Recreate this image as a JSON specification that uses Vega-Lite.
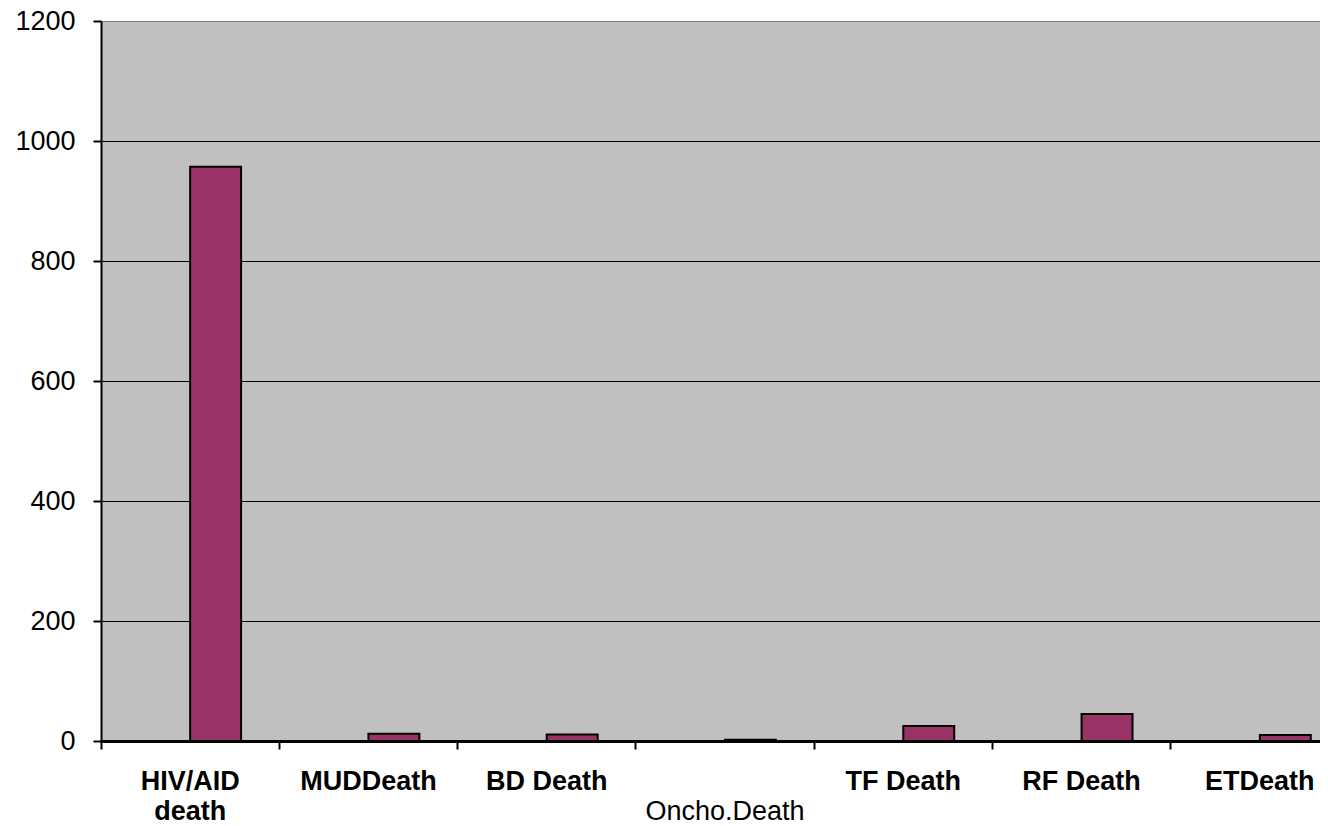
{
  "$schema": "https://vega.github.io/schema/vega-lite/v6.json",
  "autosize": {"type": "none"},
  "width": 1219,
  "height": 720,
  "padding": {"left": 101, "top": 21, "right": 0, "bottom": 85},
  "background": "white",
  "config": {
    "view": {"fill": "#C0C0C0", "stroke": null},
    "font": "Liberation Sans"
  },
  "data": {
    "values": [
      {"cause": "HIV/AID death", "series": "deaths", "count": 957},
      {"cause": "MUDDeath", "series": "deaths", "count": 12},
      {"cause": "BD Death", "series": "deaths", "count": 11},
      {"cause": "Oncho.Death", "series": "deaths", "count": 2},
      {"cause": "TF Death", "series": "deaths", "count": 25},
      {"cause": "RF Death", "series": "deaths", "count": 45},
      {"cause": "ETDeath", "series": "deaths", "count": 10}
    ]
  },
  "mark": {"type": "bar", "fill": "#993366", "stroke": "black", "strokeWidth": 2},
  "encoding": {
    "x": {
      "field": "cause",
      "type": "nominal",
      "sort": null,
      "title": null,
      "scale": {"range": [0, 1248], "paddingInner": 0, "paddingOuter": 0},
      "axis": {
        "domain": false,
        "bandPosition": 0,
        "tickColor": "black",
        "tickWidth": 2,
        "tickSize": 8,
        "labelAngle": 0,
        "labelFont": "Liberation Sans",
        "labelFontWeight": {"condition": {"test": "datum.value == 'Oncho.Death'", "value": "normal"}, "value": "bold"},
        "labelFontSize": 27,
        "labelColor": "black",
        "labelPadding": 19,
        "labelLineHeight": 30,
        "labelOverlap": false,
        "labelBound": false,
        "labelFlush": false,
        "labelExpr": "datum.value == 'HIV/AID death' ? ['HIV/AID', 'death'] : datum.value == 'Oncho.Death' ? ['', 'Oncho.Death'] : datum.value"
      }
    },
    "xOffset": {
      "field": "series",
      "type": "nominal",
      "scale": {"domain": ["other", "deaths"], "paddingInner": 0, "paddingOuter": 0.75}
    },
    "y": {
      "field": "count",
      "type": "quantitative",
      "title": null,
      "scale": {"domain": [0, 1200], "nice": false},
      "axis": {
        "values": [0, 200, 400, 600, 800, 1000, 1200],
        "format": "d",
        "domainColor": "black",
        "domainWidth": 2,
        "tickColor": "black",
        "tickWidth": 2,
        "tickSize": 8,
        "labelFont": "Liberation Sans",
        "labelFontSize": 27,
        "labelColor": "black",
        "labelPadding": 18,
        "grid": true,
        "gridColor": {"condition": {"test": "datum.value == 1200", "value": "#808080"}, "value": "black"},
        "gridWidth": {"condition": {"test": "datum.value == 0", "value": 3}, "value": 1},
        "gridOpacity": 1
      }
    }
  }
}
